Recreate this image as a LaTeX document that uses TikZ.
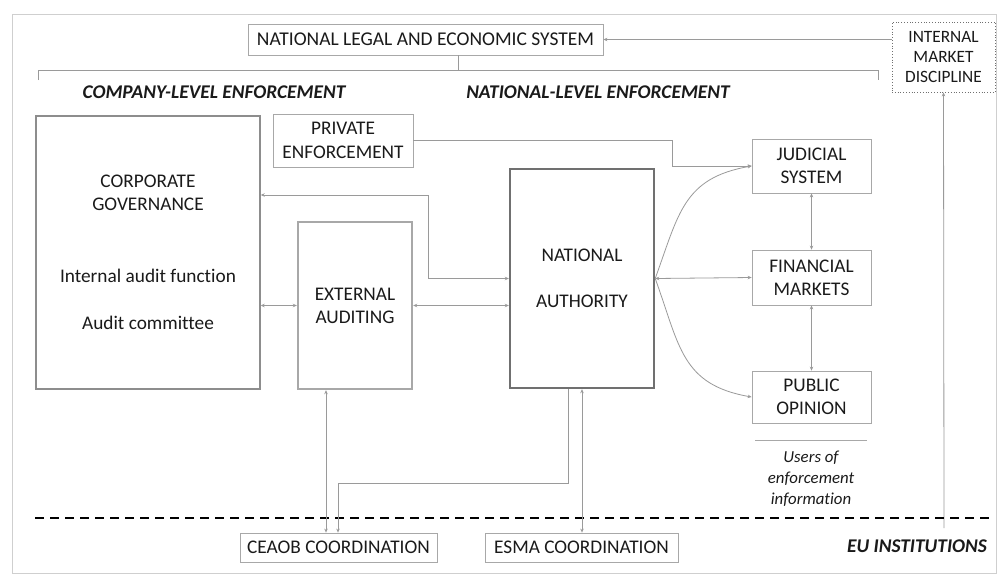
\documentclass[tikz,border=0pt]{standalone}
\usepackage{fontspec}
\setmainfont{Carlito}[Ligatures=NoCommon]
\usetikzlibrary{arrows.meta,calc}
\definecolor{txt}{HTML}{1A1A1A}
\definecolor{boxgray}{HTML}{A8A8A8}
\definecolor{linegray}{HTML}{9A9A9A}
\definecolor{framegray}{HTML}{CFCFCF}
\definecolor{nagray}{HTML}{707070}
\newcommand\bxfont{\fontsize{19.3}{23}\selectfont}
\newcommand\hdfont{\fontsize{19.4}{22}\selectfont\bfseries\itshape}
\begin{document}
\begin{tikzpicture}[x=1pt,y=-1pt,
  box/.style={draw=boxgray, line width=0.8pt, fill=white, align=center, inner sep=0pt, font=\bxfont, text=txt},
  heading/.style={font=\hdfont, text=txt, inner sep=0pt},
  conn/.style={draw=linegray, line width=0.8pt},
  arr/.style={conn, -{Stealth[length=4pt,width=3.5pt]}},
  darr/.style={conn, {Stealth[length=4pt,width=3.5pt]}-{Stealth[length=4pt,width=3.5pt]}}]
\useasboundingbox (0,0) rectangle (1000,574);
\fill[white] (0,0) rectangle (1000,574);
% outer frame
\draw[framegray, line width=1pt] (12,14) rectangle (996,573);

% nodes
\node[box, minimum width=355pt, minimum height=31pt, font=\fontsize{19.5}{22}\selectfont] (nles) at (425.5,39.5) {NATIONAL LEGAL AND ECONOMIC SYSTEM};
\node[box, dotted, draw=nagray, minimum width=103pt, minimum height=70pt, font=\fontsize{17.3}{20}\selectfont] (imd) at (943.5,57) {INTERNAL\\MARKET\\DISCIPLINE};

\node[heading] (company) at (214,92) {COMPANY-LEVEL ENFORCEMENT};
\node[heading] (national) at (598,92) {NATIONAL-LEVEL ENFORCEMENT};

\node[box, draw=nagray!80, line width=1.4pt, minimum width=224pt, minimum height=273pt] (cg) at (148,252.5)
  {CORPORATE\\GOVERNANCE\\[49pt]Internal audit function\\[24pt]Audit committee};
\node[box, minimum width=140pt, minimum height=53pt, font=\fontsize{19.3}{24}\selectfont] (pe) at (343,140.5) {PRIVATE\\ENFORCEMENT};
\node[box, draw=boxgray, line width=2.4pt, minimum width=114pt, minimum height=167pt] (ea) at (355,305.5) {EXTERNAL\\AUDITING};
\node[box, draw=nagray, line width=2.4pt, minimum width=144pt, minimum height=219pt] (na) at (582,278.5) {NATIONAL\\[23pt]AUTHORITY};

\node[box, minimum width=119pt, minimum height=54pt] (js) at (811.5,166) {JUDICIAL\\SYSTEM};
\node[box, minimum width=119pt, minimum height=55pt] (fm) at (811.5,277.5) {FINANCIAL\\MARKETS};
\node[box, minimum width=119pt, minimum height=52pt] (po) at (811.5,397) {PUBLIC\\OPINION};
\node[align=center, font=\fontsize{16.8}{21}\selectfont\itshape, text=txt, inner sep=0pt] (users) at (811,479) {Users of\\enforcement\\information};

\node[box, minimum width=197pt, minimum height=29pt] (ceaob) at (338.5,547.5) {CEAOB COORDINATION};
\node[box, minimum width=193pt, minimum height=29pt] (esma) at (581.5,547.5) {ESMA COORDINATION};
\node[heading, font=\fontsize{19.4}{22}\selectfont\bfseries\itshape] (eu) at (917,546) {EU INSTITUTIONS};

% coordinates
\coordinate (brL) at (38,80);
\coordinate (brR) at (878,80);
\coordinate (brM) at (458,70);
\coordinate (pej) at (672,166);
\coordinate (cgna) at (428,195);
\coordinate (eax) at (326,0);
\coordinate (nacorner) at (568,483);
\coordinate (ceaobx) at (338,0);
\coordinate (imdend) at (944,528);
\coordinate (ul1) at (755,440);
\coordinate (ul2) at (867,440);

% bracket under national legal system
\draw[conn] (brL) -- (brL |- brM) -- (brR |- brM) -- (brR);
\draw[conn] (brM) -- (brM |- nles.south);
% internal market discipline
\draw[arr] (nles.east -| imd.west) -- (nles.east);
\draw[arr] (imdend) -- (imd.south);

% private enforcement to judicial system
\draw[arr] (pe.east) -| (pej) -- (js.west);
% national authority to users
\draw[conn, -{Stealth[length=4pt,width=3.5pt]}] (na.east) to[out=70,in=190,looseness=1.2] (js.west);
\draw[darr] (na.east) -- (fm.west);
\draw[conn, -{Stealth[length=4pt,width=3.5pt]}] (na.east) to[out=-70,in=170,looseness=1.2] (po.west);
\draw[darr] (js.south) -- (fm.north);
\draw[darr] (fm.south) -- (po.north);
\draw[conn, draw=boxgray] (ul1) -- (ul2);

% company level
\draw[darr] (cgna -| cg.east) -- (cgna) |- (na.west);
\draw[darr] (ea.west -| cg.east) -- (ea.west);
\draw[darr] (ea.east) -- (ea.east -| na.west);

% EU level
\draw[black, line width=2pt, dash pattern=on 9pt off 6pt] (35,518) -- (993,518);
\draw[darr] (ea.south -| eax) -- (ceaob.north -| eax);
\draw[arr] (na.south -| nacorner) -- (nacorner) -| (ceaob.north -| ceaobx);
\draw[darr] (na.south) -- (na.south |- esma.north);
\end{tikzpicture}
\end{document}
